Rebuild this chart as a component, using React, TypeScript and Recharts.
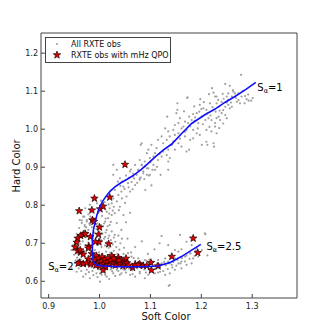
import React from "react";
import { ScatterChart, Scatter, XAxis, YAxis, ReferenceDot } from "recharts";

const X_TICKS = [0.9, 1.0, 1.1, 1.2, 1.3];
const Y_TICKS = [0.6, 0.7, 0.8, 0.9, 1.0, 1.1, 1.2];

// All RXTE observations, [soft, hard]
const GRAY_UPPER: [number, number][] = [
  [1.278, 1.143], [1.247, 1.119], [1.256, 1.114], [1.263, 1.099], [1.266, 1.094], [1.273, 1.094], [1.279, 1.086],
  [1.286, 1.087], [1.289, 1.079], [1.293, 1.075], [1.298, 1.075], [1.285, 1.068], [1.273, 1.077], [1.27, 1.072],
  [1.276, 1.068], [1.26, 1.086], [1.253, 1.094], [1.25, 1.086], [1.253, 1.077], [1.25, 1.07], [1.253, 1.064],
  [1.26, 1.059], [1.256, 1.055], [1.247, 1.059], [1.243, 1.05], [1.24, 1.042], [1.234, 1.033], [1.237, 1.024],
  [1.247, 1.037], [1.25, 1.029], [1.243, 1.015], [1.227, 1.007], [1.24, 1.072], [1.234, 1.059], [1.23, 1.086],
  [1.172, 1.082], [1.221, 1.108], [1.212, 0.959], [1.225, 0.954], [1.176, 0.946], [1.153, 1.068], [1.153, 1.051],
  [1.133, 1.033], [1.198, 1.079], [1.205, 1.071], [1.186, 1.06], [1.166, 1.047], [1.215, 1.092], [1.262, 1.103],
  [1.282, 1.101], [1.268, 1.082], [1.292, 1.091], [1.301, 1.082], [1.236, 1.049], [1.244, 1.08],
  [1.211, 1.041], [1.218, 1.036], [1.196, 1.046], [1.188, 1.031], [1.178, 1.008], [1.165, 1.007], [1.203, 1.013],
  [1.216, 1.006], [1.193, 1.002], [1.187, 1.022], [1.222, 1.058], [1.228, 1.046], [1.208, 1.024], [1.2, 1.053],
  [1.176, 1.033], [1.168, 0.993], [1.158, 0.975], [1.145, 0.968], [1.235, 1.003], [1.242, 1.093], [1.258, 1.07],
];

const GRAY_MIDDLE: [number, number][] = [
  [1.173, 1.084], [1.224, 1.096], [1.227, 1.086], [1.217, 1.068], [1.23, 1.068], [1.233, 1.077], [1.197, 1.064],
  [1.204, 1.055], [1.21, 1.051], [1.191, 1.042], [1.184, 1.04], [1.201, 1.033], [1.214, 1.029], [1.22, 1.024],
  [1.227, 1.016], [1.23, 1.029], [1.194, 1.016], [1.181, 1.024], [1.174, 1.016], [1.168, 1.02], [1.151, 1.042],
  [1.158, 1.029], [1.155, 1.016], [1.148, 1.011], [1.161, 1.002], [1.171, 0.998], [1.184, 0.998], [1.191, 0.989],
  [1.197, 0.985], [1.21, 0.998], [1.22, 0.994], [1.23, 0.989], [1.224, 0.963], [1.21, 0.967], [1.201, 0.959],
  [1.184, 0.976], [1.178, 0.972], [1.168, 0.981], [1.155, 0.989], [1.145, 0.998], [1.135, 0.994], [1.129, 1.002],
  [1.148, 0.985], [1.138, 0.981], [1.132, 0.972], [1.122, 0.981], [1.115, 0.972], [1.125, 0.963], [1.142, 0.959],
  [1.155, 0.963], [1.148, 0.946], [1.161, 0.954], [1.171, 0.941], [1.135, 0.946], [1.125, 0.941], [1.132, 0.932],
  [1.138, 0.924], [1.135, 0.915], [1.122, 0.928], [1.112, 0.95], [1.109, 0.937], [1.106, 0.928], [1.102, 0.959],
  [1.096, 0.946], [1.093, 0.937], [1.083, 0.963], [1.099, 0.924], [1.115, 0.919], [1.089, 0.915], [1.079, 0.919],
  [1.106, 0.906], [1.096, 0.897], [1.083, 0.906], [1.076, 0.893], [1.086, 0.889], [1.093, 0.88], [1.109, 0.893],
  [1.135, 0.893], [1.073, 0.88], [1.079, 0.871], [1.07, 0.906],
  [1.027, 0.88], [1.034, 0.893], [1.04, 0.871], [1.06, 0.889], [1.066, 0.875], [1.076, 0.893], [1.086, 0.884],
  [1.093, 0.897], [1.083, 0.906], [1.099, 0.88], [1.079, 0.867], [1.07, 0.853], [1.056, 0.858], [1.047, 0.849],
  [1.06, 0.836], [1.053, 0.823], [1.043, 0.836], [1.037, 0.827], [1.03, 0.84], [1.027, 0.818], [1.034, 0.81],
  [1.024, 0.805], [1.04, 0.796], [1.02, 0.792], [1.014, 0.783], [1.024, 0.774], [1.03, 0.779], [1.047, 0.774],
  [1.017, 0.766], [1.011, 0.757], [1.02, 0.748], [1.034, 0.753], [1.007, 0.744], [1.014, 0.735], [1.024, 0.731],
  [1.004, 0.726], [1.011, 0.717], [1.017, 0.713], [1.03, 0.722], [1.001, 0.713], [0.971, 0.748], [0.978, 0.735],
  [0.975, 0.761], [0.981, 0.801], [1.027, 0.906], [0.975, 0.717],
  [1.045, 0.862], [1.052, 0.878], [1.058, 0.872], [1.063, 0.861], [1.041, 0.851], [1.068, 0.87], [1.074, 0.859],
  [1.081, 0.873], [1.088, 0.869], [1.097, 0.878], [1.104, 0.893], [1.113, 0.901], [1.062, 0.894], [1.081, 0.959],
  [1.102, 0.852], [1.09, 0.84], [1.12, 0.88],
  [1.036, 0.862], [1.049, 0.843], [1.057, 0.847], [1.065, 0.842], [1.044, 0.818], [1.05, 0.806], [1.038, 0.787],
  [1.028, 0.796], [1.018, 0.802], [1.011, 0.79], [1.066, 0.883], [1.089, 0.902], [1.1, 0.913], [1.118, 0.935],
];

const GRAY_LOWER_LEFT: [number, number][] = [
  [0.972, 0.792], [0.978, 0.776], [0.982, 0.77], [0.995, 0.805], [1.003, 0.812], [1.01, 0.808], [0.998, 0.78],
  [1.005, 0.772], [1.012, 0.765], [1.019, 0.778], [1.026, 0.786], [0.992, 0.765], [0.996, 0.752], [1.003, 0.748],
  [1.009, 0.752], [1.016, 0.745], [1.022, 0.756], [0.994, 0.738], [1.0, 0.73], [1.006, 0.725], [1.012, 0.728],
  [1.019, 0.72], [0.99, 0.728], [0.985, 0.742], [0.98, 0.752], [0.974, 0.742], [0.97, 0.733], [0.976, 0.728],
  [0.983, 0.722], [0.993, 0.715], [1.003, 0.708], [1.009, 0.712], [1.015, 0.703], [1.022, 0.708], [1.028, 0.715],
  [0.997, 0.695], [1.004, 0.69], [1.011, 0.694], [1.018, 0.688], [0.991, 0.682], [0.985, 0.676], [0.978, 0.702],
  [0.972, 0.695], [0.967, 0.705], [0.962, 0.698], [0.958, 0.688], [0.964, 0.684], [0.971, 0.678], [0.976, 0.685],
  [0.982, 0.692], [0.999, 0.676], [1.006, 0.672], [1.013, 0.678], [1.021, 0.675], [1.028, 0.68], [1.035, 0.672],
  [0.96, 0.74], [0.955, 0.725], [0.965, 0.76], [0.97, 0.77], [0.952, 0.705], [0.948, 0.695], [0.945, 0.682],
  [0.95, 0.67], [0.956, 0.662], [0.961, 0.761], [0.968, 0.77], [0.965, 0.753], [0.975, 0.757], [0.981, 0.748],
  [0.971, 0.744], [0.948, 0.682], [0.945, 0.634], [0.955, 0.625], [0.968, 0.612], [0.981, 0.608], [1.001, 0.599],
  [1.014, 0.612], [0.994, 0.621], [0.975, 0.63], [1.007, 0.625], [1.027, 0.621], [1.024, 0.634], [1.034, 0.63],
  [1.041, 0.7], [1.048, 0.688], [1.055, 0.712], [1.062, 0.676], [1.07, 0.69], [1.083, 0.705], [1.095, 0.672],
  [1.108, 0.684], [1.118, 0.7], [1.043, 0.735], [1.052, 0.755], [1.06, 0.78],
  [0.959, 0.634], [0.964, 0.627], [0.973, 0.619], [0.979, 0.624], [0.988, 0.616], [0.996, 0.611], [1.004, 0.617],
  [1.019, 0.606], [1.031, 0.614], [0.951, 0.648], [0.958, 0.671], [0.953, 0.655], [1.033, 0.69], [1.026, 0.697],
  [1.039, 0.683], [1.047, 0.672], [1.031, 0.704], [1.037, 0.72], [1.044, 0.712],
];

const GRAY_BAND: [number, number][] = [
  [0.963, 0.657], [0.967, 0.647], [0.971, 0.641], [0.974, 0.653], [0.98, 0.644], [0.984, 0.637], [0.986, 0.627],
  [0.991, 0.651], [0.993, 0.637], [0.998, 0.631], [1.001, 0.621], [1.004, 0.646], [1.007, 0.634], [1.01, 0.628],
  [1.011, 0.617], [1.016, 0.652], [1.017, 0.642], [1.022, 0.631], [1.025, 0.626], [1.028, 0.655], [1.031, 0.644],
  [1.032, 0.637], [1.037, 0.627], [1.04, 0.617], [1.041, 0.651], [1.046, 0.641], [1.047, 0.631], [1.052, 0.623],
  [1.055, 0.656], [1.056, 0.647], [1.061, 0.638], [1.064, 0.629], [1.065, 0.619], [1.07, 0.653], [1.073, 0.641],
  [1.074, 0.634], [1.079, 0.625], [1.082, 0.649], [1.083, 0.637], [1.088, 0.631], [1.091, 0.623], [1.092, 0.654],
  [1.097, 0.645], [1.1, 0.634], [1.101, 0.626], [1.106, 0.651], [1.109, 0.639], [1.11, 0.632], [1.115, 0.623],
  [1.118, 0.645], [1.119, 0.637], [1.125, 0.627], [1.127, 0.651], [1.13, 0.642], [1.134, 0.632], [1.137, 0.647],
  [1.143, 0.636], [1.145, 0.651], [1.151, 0.641], [1.153, 0.656], [1.159, 0.647], [1.162, 0.661], [1.168, 0.652],
  [1.171, 0.668], [1.177, 0.659], [1.179, 0.673], [1.187, 0.667], [1.189, 0.681], [0.996, 0.643], [1.013, 0.639],
  [1.036, 0.641], [1.058, 0.633], [1.086, 0.643], [1.113, 0.647], [1.043, 0.658], [1.067, 0.661], [1.098, 0.657],
  [1.02, 0.662], [0.988, 0.661],
  [1.122, 0.719], [1.158, 0.722], [1.171, 0.704], [1.207, 0.726], [1.135, 0.695], [1.148, 0.682], [1.155, 0.678],
  [1.161, 0.684], [1.178, 0.674], [1.168, 0.665], [1.184, 0.66], [1.181, 0.647], [1.171, 0.643], [1.161, 0.634],
  [1.148, 0.63], [1.138, 0.621], [1.138, 0.59], [1.129, 0.617], [1.119, 0.625], [1.109, 0.621], [1.096, 0.617],
  [1.089, 0.608], [1.079, 0.621], [1.07, 0.612], [1.06, 0.617], [1.05, 0.63], [1.043, 0.621], [1.122, 0.647],
  [1.135, 0.652], [1.129, 0.66], [1.115, 0.656], [1.102, 0.652], [1.089, 0.656], [1.076, 0.66], [1.063, 0.665],
  [1.056, 0.674], [1.037, 0.669], [1.201, 0.682], [1.191, 0.687], [1.181, 0.695], [1.194, 0.665], [1.161, 0.652],
  [1.148, 0.66], [1.142, 0.643], [1.155, 0.647], [1.136, 0.588], [1.208, 0.724], [1.212, 0.668], [1.225, 0.68],
];

// Observations with mHz QPO
const QPO_OBS: [number, number][] = [
  [1.05, 0.907], [0.99, 0.818], [1.02, 0.821], [0.96, 0.785], [0.985, 0.787], [1.001, 0.79], [1.007, 0.797],
  [0.986, 0.761], [0.989, 0.757], [1.0, 0.742], [0.968, 0.723], [0.963, 0.72], [0.972, 0.725], [0.982, 0.717],
  [0.998, 0.723], [0.957, 0.713], [0.999, 0.703], [0.992, 0.704], [1.018, 0.698], [0.955, 0.702], [0.952, 0.69],
  [0.979, 0.692], [0.957, 0.68], [0.963, 0.676], [0.968, 0.671], [0.961, 0.649], [0.968, 0.646], [0.978, 0.658],
  [0.994, 0.667], [0.985, 0.672], [0.962, 0.682], [0.978, 0.687], [0.958, 0.647],
  [0.99, 0.655], [0.995, 0.648], [0.998, 0.66], [1.002, 0.652], [1.005, 0.664], [1.008, 0.646], [1.01, 0.657],
  [1.013, 0.65], [1.016, 0.661], [1.019, 0.644], [1.021, 0.654], [1.024, 0.667], [1.026, 0.648], [1.029, 0.658],
  [1.031, 0.642], [1.034, 0.652], [1.037, 0.662], [1.04, 0.647], [1.043, 0.656], [1.046, 0.64], [1.049, 0.651],
  [1.052, 0.66], [1.012, 0.638], [1.0, 0.64], [0.993, 0.642], [1.038, 0.655], [1.007, 0.629], [1.054, 0.648],
  [1.065, 0.636], [1.079, 0.645], [1.086, 0.641], [1.093, 0.641], [1.101, 0.649], [1.102, 0.629], [1.115, 0.64],
  [1.142, 0.665], [1.184, 0.713], [1.193, 0.675], [0.975, 0.648], [0.983, 0.645], [1.057, 0.642], [1.07, 0.644],
  [1.076, 0.643], [1.028, 0.66],
];

// Z-track spline, from the S_a=2.5 end round to S_a=1
const TRACK: [number, number][] = [
  [1.199, 0.697], [1.181, 0.682], [1.161, 0.665], [1.138, 0.649], [1.115, 0.64], [1.08, 0.638], [1.04, 0.638],
  [1.007, 0.64], [0.994, 0.643], [0.988, 0.652], [0.986, 0.669], [0.986, 0.69], [0.986, 0.71], [0.988, 0.735],
  [0.991, 0.753], [0.995, 0.775], [1.0, 0.794], [1.006, 0.81], [1.013, 0.824], [1.021, 0.837], [1.031, 0.849],
  [1.042, 0.859], [1.055, 0.869], [1.068, 0.88], [1.081, 0.893], [1.094, 0.908], [1.11, 0.928], [1.125, 0.945],
  [1.142, 0.961], [1.161, 0.988], [1.181, 1.015], [1.207, 1.038], [1.227, 1.053], [1.247, 1.071], [1.266, 1.086],
  [1.287, 1.104], [1.307, 1.123],
];

const toPts = (a: [number, number][]) => a.map(([x, y]) => ({ x, y }));
const grayData = toPts([...GRAY_UPPER, ...GRAY_MIDDLE, ...GRAY_LOWER_LEFT, ...GRAY_BAND]);
const qpoData = toPts(QPO_OBS);
const trackData = toPts(TRACK);

const FONT = "'DejaVu Sans', sans-serif";
const FRAME = "#444";

function starPoints(cx: number, cy: number, R: number, r: number) {
  const pts: string[] = [];
  for (let i = 0; i < 10; i++) {
    const a = ((-90 + i * 36) * Math.PI) / 180;
    const rad = i % 2 === 0 ? R : r;
    pts.push(`${(cx + rad * Math.cos(a)).toFixed(2)},${(cy + rad * Math.sin(a)).toFixed(2)}`);
  }
  return pts.join(" ");
}

const GrayDot = (p: any) => <circle cx={p.cx} cy={p.cy} r={1.1} fill="#a0a0a0" />;
const Star = (p: any) => (
  <polygon points={starPoints(p.cx, p.cy, 3.9, 1.6)} fill="#e00000" stroke="#200" strokeWidth={0.7} />
);

const saLabel = (sub: string, rest: string) => (p: any) => (
  <text x={p.cx} y={p.cy} dominantBaseline="middle" fontFamily={FONT} fontSize={10} fill="#000">
    S
    <tspan fontSize={6.5} dy={3}>{sub}</tspan>
    <tspan dy={-3}>{rest}</tspan>
  </text>
);

export default function App() {
  return (
    <div style={{ position: "absolute", left: 0, top: 0, width: 329, height: 332, background: "#fff" }}>
      <ScatterChart width={329} height={332} margin={{ top: 32, right: 31, bottom: 0, left: 0 }}>
        <XAxis
          type="number"
          dataKey="x"
          domain={[0.885, 1.388]}
          ticks={X_TICKS}
          allowDataOverflow
          height={34}
          tickSize={-4}
          tickMargin={9}
          tickFormatter={(v: number) => v.toFixed(1)}
          tick={{ fontSize: 8, fontFamily: FONT, fill: "#222" }}
          stroke={FRAME}
          label={{
            content: () => (
              <text x={166} y={320} textAnchor="middle" fontFamily={FONT} fontSize={10} fill="#111">
                Soft Color
              </text>
            ),
          }}
        />
        <XAxis
          xAxisId="top"
          orientation="top"
          type="number"
          dataKey="x"
          domain={[0.885, 1.388]}
          ticks={X_TICKS}
          allowDataOverflow
          height={1}
          tickSize={-4}
          tick={false}
          stroke={FRAME}
        />
        <YAxis
          type="number"
          dataKey="y"
          domain={[0.556, 1.253]}
          ticks={Y_TICKS}
          allowDataOverflow
          width={41}
          tickSize={-4}
          tickMargin={7}
          tickFormatter={(v: number) => v.toFixed(1)}
          tick={{ fontSize: 8, fontFamily: FONT, fill: "#222" }}
          stroke={FRAME}
          label={{
            content: () => (
              <text
                x={0}
                y={0}
                transform="translate(20,166) rotate(-90)"
                textAnchor="middle"
                fontFamily={FONT}
                fontSize={10}
                fill="#111"
              >
                Hard Color
              </text>
            ),
          }}
        />
        <YAxis
          yAxisId="right"
          orientation="right"
          type="number"
          dataKey="y"
          domain={[0.556, 1.253]}
          ticks={Y_TICKS}
          allowDataOverflow
          width={1}
          tickSize={-4}
          tick={false}
          stroke={FRAME}
        />
        {/* invisible copy so the top/right frame axes have a series */}
        <Scatter
          data={trackData}
          xAxisId="top"
          yAxisId="right"
          shape={() => <g />}
          isAnimationActive={false}
        />
        <Scatter data={grayData} shape={GrayDot} isAnimationActive={false} />
        <Scatter data={qpoData} shape={Star} isAnimationActive={false} />
        <Scatter
          data={trackData}
          line={{ stroke: "#1010ff", strokeWidth: 1.6 }}
          lineType="joint"
          shape={() => <g />}
          isAnimationActive={false}
        />
        <ReferenceDot x={1.31} y={1.108} r={0} shape={saLabel("α", "=1")} />
        <ReferenceDot x={1.21} y={0.69} r={0} shape={saLabel("α", "=2.5")} />
        <ReferenceDot x={0.899} y={0.638} r={0} shape={saLabel("α", "=2")} />
      </ScatterChart>
      <div
        style={{
          position: "absolute",
          left: 45,
          top: 37,
          width: 126,
          height: 26,
          boxSizing: "border-box",
          border: "1px solid #444",
          background: "#fff",
        }}
      >
        <svg width={124} height={24} style={{ display: "block" }}>
          <circle cx={11} cy={6} r={1.1} fill="#a0a0a0" />
          <text x={25} y={6} dominantBaseline="middle" fontFamily={FONT} fontSize={8} fill="#111">
            All RXTE obs
          </text>
          <polygon points={starPoints(11, 17, 3.9, 1.6)} fill="#e00000" stroke="#200" strokeWidth={0.7} />
          <text x={25} y={17} dominantBaseline="middle" fontFamily={FONT} fontSize={8} fill="#111">
            RXTE obs with mHz QPO
          </text>
        </svg>
      </div>
    </div>
  );
}
